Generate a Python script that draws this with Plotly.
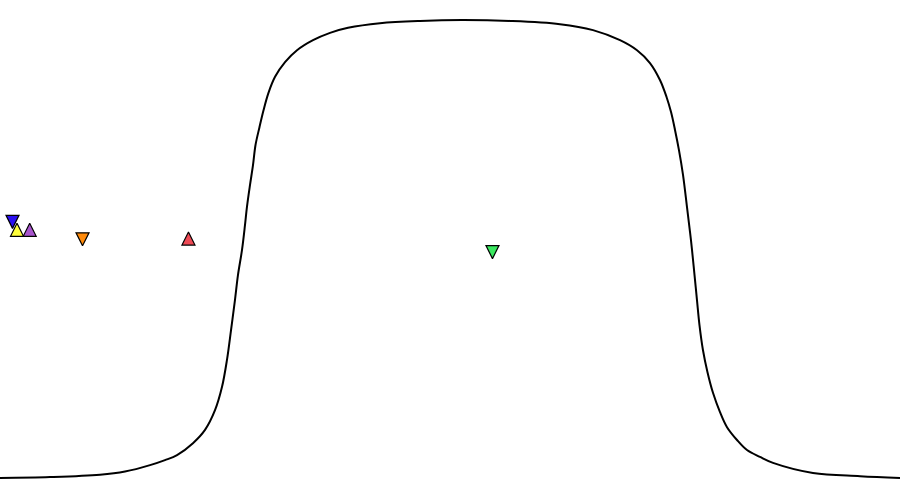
#!/usr/bin/env python3
"""Plateau response curve with a few triangle markers, no axes."""

import plotly.graph_objects as go

# --- Data ---
CURVE_X = [0, 5.56, 11.11, 13.89, 16.67, 18.33, 19.67, 21.44, 22.78, 23.89, 24.67, 25.22, 25.67, 26.11,
           26.44, 26.89, 27.22, 27.44, 27.78, 28.11, 28.39, 28.83, 29.28, 29.83, 30.56, 31.67, 33.0,
           34.78, 36.67, 38.67, 42.22, 46.67, 51.33,
           56.67, 62.22, 65.89, 68.89, 70.78, 72.22, 73.33, 74.06, 74.56, 75.0, 75.44, 75.89, 76.33,
           76.67, 76.89, 77.17, 77.44, 77.72, 78.11, 78.61, 79.22, 80.0, 80.78, 81.89, 83.0, 84.44,
           85.89, 90.33, 95.56, 100]
CURVE_Y = [0, 0.002, 0.007, 0.014, 0.028, 0.039, 0.050, 0.076, 0.105, 0.148, 0.199, 0.258, 0.323, 0.389,
           0.443, 0.498, 0.552, 0.592, 0.640, 0.683, 0.727, 0.766, 0.803, 0.841, 0.876, 0.908, 0.934,
           0.956, 0.972, 0.983, 0.993, 0.998, 1.0,
           0.998, 0.991, 0.978, 0.956, 0.934, 0.906, 0.869, 0.832, 0.799, 0.760, 0.716, 0.662, 0.592,
           0.537, 0.498, 0.443, 0.389, 0.334, 0.279, 0.231, 0.186, 0.144, 0.111, 0.083, 0.061, 0.046,
           0.033, 0.011, 0.004, 0]

# marker points (tip of each triangle)
MARKER_X = [1.39, 1.89, 3.30, 9.17, 20.94, 54.72]
MARKER_Y = [0.545, 0.556, 0.556, 0.507, 0.537, 0.479]
MARKER_SYMBOLS = ["arrow-down", "arrow-up", "arrow-up", "arrow-down", "arrow-up", "arrow-down"]
MARKER_COLORS = ["#2a10f0", "#ffff3a", "#a855cc", "#ff8a0a", "#ee4a55", "#3ae860"]

# --- Figure ---
fig = go.Figure()
fig.add_trace(go.Scatter(x=CURVE_X, y=CURVE_Y, mode="lines", line=dict(color="black", width=2, shape="spline", smoothing=1),
                         hoverinfo="skip", showlegend=False))
for x, y, s, c in zip(MARKER_X, MARKER_Y, MARKER_SYMBOLS, MARKER_COLORS):
    fig.add_trace(go.Scatter(x=[x], y=[y], mode="markers", showlegend=False,
                             marker=dict(symbol=s, size=13, color=c, line=dict(color="black", width=1.2))))

fig.update_layout(width=900, height=498, margin=dict(l=0, r=0, t=0, b=0), plot_bgcolor="white", paper_bgcolor="white",
                  xaxis=dict(range=[0, 100], visible=False), yaxis=dict(range=[-0.0437, 1.0437], visible=False))
fig.write_html("out.html", config={"displayModeBar": False}, post_script="document.body.style.margin='0';")
